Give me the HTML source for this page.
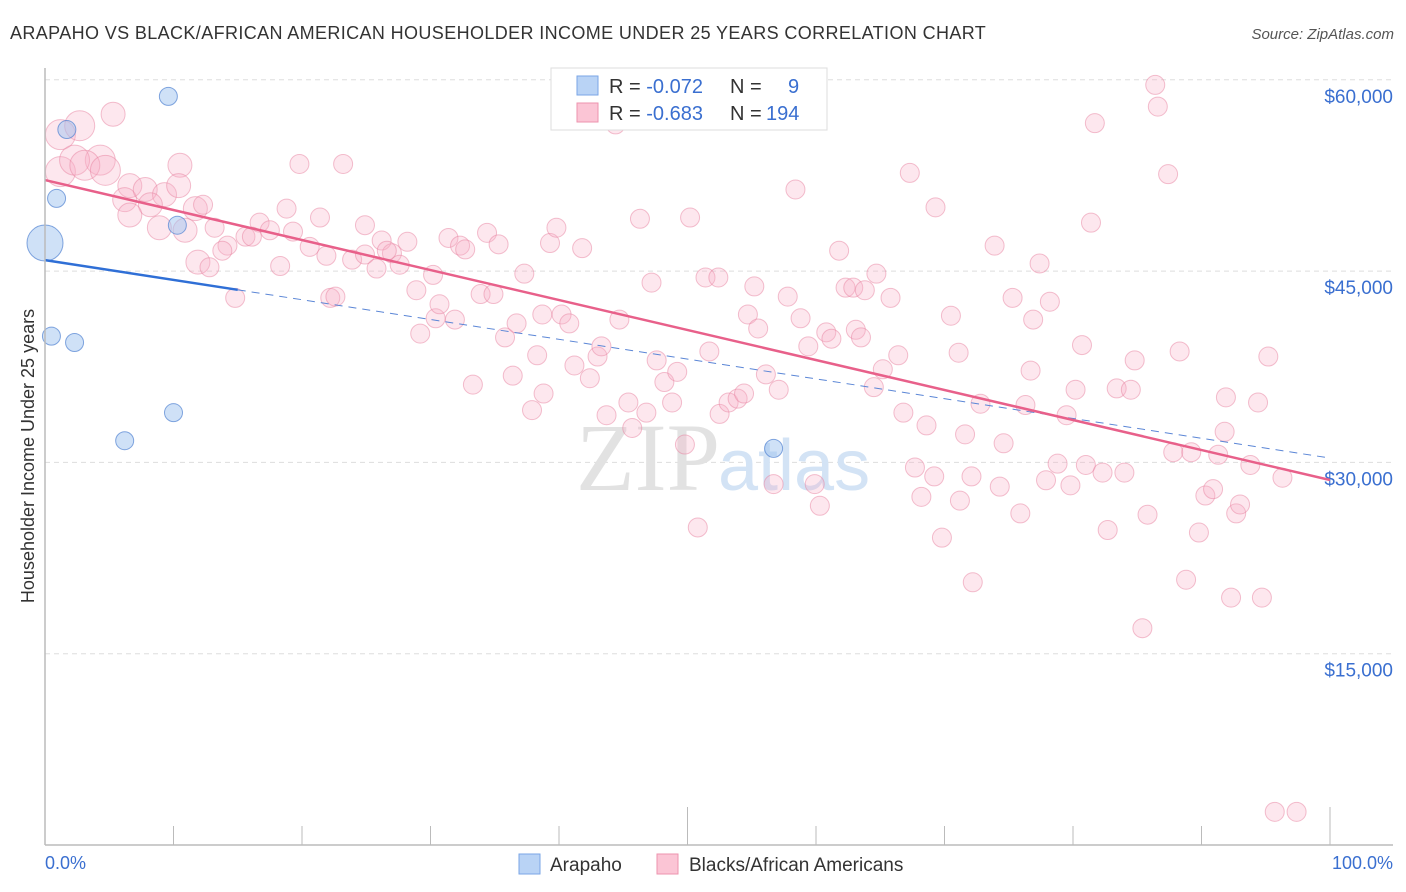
<!DOCTYPE html>
<html><head><meta charset="utf-8"><style>
body{margin:0;background:#fff;font-family:"Liberation Sans",sans-serif;}
svg{display:block}
</style></head><body>
<svg id="chart" width="1406" height="892" xmlns="http://www.w3.org/2000/svg">
<text x="10" y="39" font-size="18" fill="#333" letter-spacing="0.38">ARAPAHO VS BLACK/AFRICAN AMERICAN HOUSEHOLDER INCOME UNDER 25 YEARS CORRELATION CHART</text>
<text x="1394" y="39" font-size="15" fill="#555" font-style="italic" text-anchor="end">Source: ZipAtlas.com</text>
<g id="grid"></g>
<text x="720" y="490" font-size="96" font-family="Liberation Serif,serif" fill="#e2e2e2" text-anchor="end">ZIP</text>
<text x="718" y="490" font-size="72" fill="#d3e3f5">atlas</text>
<g id="marks"></g>
<line x1="45" y1="68" x2="45" y2="845" stroke="#bbb" stroke-width="1.5"/>
<line x1="45" y1="845" x2="1393" y2="845" stroke="#bbb" stroke-width="1.5"/>
<text transform="translate(34,456) rotate(-90)" font-size="18" fill="#333" text-anchor="middle">Householder Income Under 25 years</text>
<text x="45" y="869" font-size="18" fill="#3a6fd0">0.0%</text>
<text x="1393" y="869" font-size="18" fill="#3a6fd0" text-anchor="end">100.0%</text>
<g>
<rect x="551" y="68" width="276" height="62" fill="#fff" stroke="#ddd"/>
<rect x="577" y="76" width="21" height="19" fill="#b9d3f5" stroke="#7aa6e6"/>
<rect x="577" y="103" width="21" height="19" fill="#fbc5d5" stroke="#ee93ae"/>
<text x="609" y="93" font-size="20" fill="#333">R = <tspan fill="#3a6fd0">-0.072</tspan><tspan x="730">N =</tspan><tspan x="788" fill="#3a6fd0">9</tspan></text>
<text x="609" y="120" font-size="20" fill="#333">R = <tspan fill="#3a6fd0">-0.683</tspan><tspan x="730">N =</tspan><tspan x="766" fill="#3a6fd0">194</tspan></text>
</g>
<g>
<rect x="519" y="854" width="21" height="20" fill="#b9d3f5" stroke="#7aa6e6"/>
<text x="550" y="871" font-size="19" fill="#333">Arapaho</text>
<rect x="657" y="854" width="21" height="20" fill="#fbc5d5" stroke="#ee93ae"/>
<text x="689" y="871" font-size="19" fill="#333">Blacks/African Americans</text>
</g>
</svg>
<script>
const yTicks=[15000,30000,45000,60000];
const yTickLabels=["$15,000","$30,000","$45,000","$60,000"];
const xTicks=[0,10,20,30,40,50,60,70,80,90,100];
const blueX=[9.6,1.7,0.9,0,10.3,0.5,2.3,10.0,6.2,56.7];
const blueY=[58.7,56.1,50.7,47.2,48.6,39.9,39.4,33.9,31.7,31.1];
const pinkX=[1.2,2.7,5.3,4.3,1.2,2.3,3.1,4.7,6.6,6.2,7.8,9.3,8.2,6.6,10.5,10.4,8.9,10.9,11.7,12.3,13.2,14.2,13.8,11.9,12.8,14.8,15.6,16.7,16.1,17.5,19.3,18.3,19.8,18.8,20.6,21.9,21.4,23.2,22.2,22.6,23.9,24.9,24.9,25.8,26.2,27.0,27.6,28.2,26.6,28.9,29.2,30.2,30.4,30.7,31.4,31.9,32.3,32.7,33.3,33.9,34.4,34.9,35.3,35.8,36.4,36.7,37.3,37.9,38.3,38.7,38.8,39.3,39.8,40.2,40.8,41.2,41.8,42.4,43.0,43.3,43.7,44.4,44.7,45.4,45.7,46.3,46.8,47.2,47.6,48.2,48.8,49.2,49.8,50.2,50.8,51.4,51.7,52.4,52.5,53.2,53.9,54.4,54.7,55.2,55.5,56.1,56.7,57.1,57.8,58.4,58.8,59.4,59.9,60.3,60.8,61.2,61.8,62.3,62.9,63.1,63.5,63.8,64.5,64.7,65.2,65.8,66.4,66.8,67.3,67.7,68.2,68.6,69.2,69.3,69.8,70.5,71.1,71.2,71.6,72.1,72.2,72.8,73.9,74.3,74.6,75.3,75.9,76.3,76.7,76.9,77.4,77.9,78.2,78.8,79.5,79.8,80.2,80.7,81.0,81.4,81.7,82.3,82.7,83.4,84.0,84.5,84.8,85.4,85.8,86.4,86.6,87.4,87.8,88.3,88.8,89.2,89.8,90.3,90.9,91.3,91.9,92.3,92.7,93.0,93.8,94.4,94.7,95.2,95.7,97.4,96.3,91.8];
const pinkY=[55.7,56.4,57.3,53.7,52.8,53.7,53.3,52.9,51.7,50.6,51.4,51.0,50.2,49.4,53.3,51.7,48.4,48.2,49.9,50.2,48.4,47.0,46.6,45.7,45.3,42.9,47.7,48.8,47.7,48.2,48.1,45.4,53.4,49.9,46.9,46.2,49.2,53.4,42.9,43.0,45.9,48.6,46.3,45.2,47.4,46.4,45.5,47.3,46.6,43.5,40.1,44.7,41.3,42.4,47.6,41.2,47.0,46.7,36.1,43.2,48.0,43.2,47.1,39.8,36.8,40.9,44.8,34.1,38.4,41.6,35.4,47.2,48.4,41.6,40.9,37.6,46.8,36.6,38.3,39.1,33.7,56.5,41.2,34.7,32.7,49.1,33.9,44.1,38.0,36.3,34.7,37.1,31.4,49.2,24.9,44.5,38.7,44.5,33.8,34.7,35.0,35.4,41.6,43.8,40.5,36.9,28.3,35.7,43.0,51.4,41.3,39.1,28.3,26.6,40.2,39.7,46.6,43.7,43.7,40.4,39.8,43.5,35.9,44.8,37.3,42.9,38.4,33.9,52.7,29.6,27.3,32.9,28.9,50.0,24.1,41.5,38.6,27.0,32.2,28.9,20.6,34.6,47.0,28.1,31.5,42.9,26.0,34.5,37.2,41.2,45.6,28.6,42.6,29.9,33.7,28.2,35.7,39.2,29.8,48.8,56.6,29.2,24.7,35.8,29.2,35.7,38.0,17.0,25.9,59.6,57.9,52.6,30.8,38.7,20.8,30.8,24.5,27.4,27.9,30.6,35.1,19.4,26.0,26.7,29.8,34.7,19.4,38.3,2.6,2.6,28.8,32.4];
const blueTrend=[45.86,30.34];
const pinkTrend=[52.14,28.62];
const NS="http://www.w3.org/2000/svg";
const X=p=>45+p*12.85;
const Y=v=>845-v*191.3/15000;
const g=document.getElementById('grid'),m=document.getElementById('marks');
function mk(t,a,par){const e=document.createElementNS(NS,t);for(const k in a)e.setAttribute(k,a[k]);par.appendChild(e);return e;}
yTicks.forEach((v,i)=>{
 const l=mk('line',{x1:45,x2:1393,y1:Y(v),y2:Y(v),stroke:'#ddd','stroke-dasharray':'5,4'},g);
 
 
 const t=mk('text',{x:1393,y:Y(v)+23,'font-size':19,fill:'#3a6fd0','text-anchor':'end'},g);
 t.textContent=yTickLabels[i];
 
 
});
xTicks.forEach(p=>{
 const big=(p===50||p===100);
 const l=mk('line',{x1:X(p),x2:X(p),y1:big?807:826,y2:845,stroke:'#bbb'},g);
 
 
});
pinkX.forEach((p,i)=>{
 const r=p<12?(p<5?15:12):9.5;
 const c=mk('circle',{cx:X(p),cy:Y(pinkY[i]*1000),r:r,fill:'rgba(248,175,198,0.3)',stroke:'rgba(232,130,160,0.5)','stroke-width':1},m);
 
 
});
blueX.forEach((p,i)=>{
 const r=p===0?18:9;
 const c=mk('circle',{cx:X(p),cy:Y(blueY[i]*1000),r:r,fill:'rgba(160,195,240,0.5)',stroke:'rgba(80,130,210,0.7)','stroke-width':1},m);
 
 
});
const by=p=>blueTrend[0]+(blueTrend[1]-blueTrend[0])*p/100;
let l1=mk('line',{x1:X(0),y1:Y(by(0)*1000),x2:X(15),y2:Y(by(15)*1000),stroke:'#2f6fd6','stroke-width':2.5},m);


let l2=mk('line',{x1:X(15),y1:Y(by(15)*1000),x2:X(100),y2:Y(by(100)*1000),stroke:'#5b86d6','stroke-width':1,'stroke-dasharray':'8,6'},m);


let l3=mk('line',{x1:X(0),y1:Y(pinkTrend[0]*1000),x2:X(100),y2:Y(pinkTrend[1]*1000),stroke:'#e8608a','stroke-width':2.5},m);


</script>
</body></html>
